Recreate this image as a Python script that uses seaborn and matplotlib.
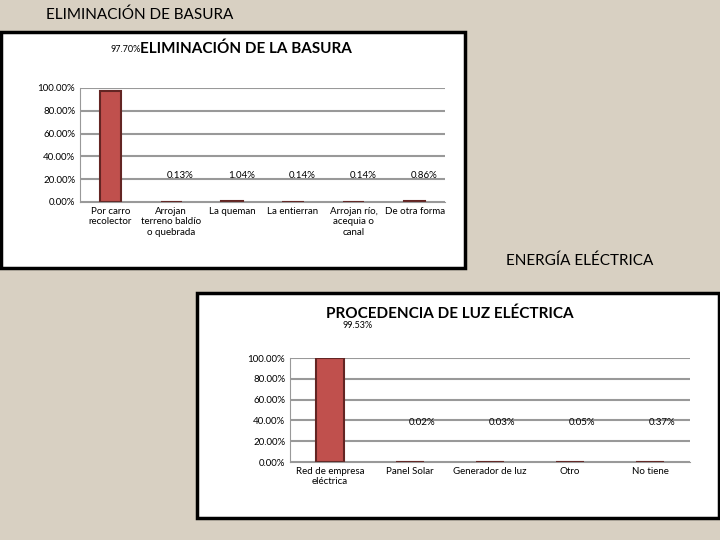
import matplotlib
matplotlib.use("Agg")
import matplotlib.pyplot as plt
import seaborn as sns
import pandas as pd
from matplotlib.patches import Rectangle

basura_cats = ["Por carro\nrecolector", "Arrojan\nterreno baldío\no quebrada", "La queman",
               "La entierran", "Arrojan río,\nacequia o\ncanal", "De otra forma"]
basura_vals = [0.9770, 0.0013, 0.0104, 0.0014, 0.0014, 0.0086]
basura_labels = ["97.70%", "0.13%", "1.04%", "0.14%", "0.14%", "0.86%"]

luz_cats = ["Red de empresa\neléctrica", "Panel Solar", "Generador de luz", "Otro", "No tiene"]
luz_vals = [0.9953, 0.0002, 0.0003, 0.0005, 0.0037]
luz_labels = ["99.53%", "0.02%", "0.03%", "0.05%", "0.37%"]

plt.rcParams["font.family"] = "Lato"
fig = plt.figure(figsize=(7.2, 5.4), dpi=100)
fig.patch.set_facecolor("#d8d0c2")

fig.text(46/720, 1-15/540, "ELIMINACIÓN DE BASURA", fontsize=11, va="center")
fig.text(506/720, 1-261/540, "ENERGÍA ELÉCTRICA", fontsize=11, va="center")

for (l, b, w, h) in [(1/720, 1-268/540, 464/720, 236/540), (197/720, 22/540, 522/720, 225/540)]:
    fig.patches.append(Rectangle((l, b), w, h, transform=fig.transFigure,
                                 facecolor="white", edgecolor="black", lw=2.5, zorder=-5))

def draw(ax, cats, vals, labels, title, title_xy, first_lab_xy, lab_y):
    ax.set_zorder(5)
    df = pd.DataFrame({"c": cats, "v": vals})
    sns.barplot(data=df, x="c", y="v", ax=ax, color="#c0504d", edgecolor="#632523",
                linewidth=1.5, width=0.35, saturation=1)
    ax.set_ylim(0, 1.0)
    ax.set_yticks([0, .2, .4, .6, .8, 1.0])
    ax.set_yticklabels(["0.00%", "20.00%", "40.00%", "60.00%", "80.00%", "100.00%"], fontsize=7)
    ax.yaxis.grid(True, color="#999999", lw=1.5)
    ax.set_axisbelow(True)
    ax.set_facecolor("none")
    for s in ["top", "right"]:
        ax.spines[s].set_visible(False)
    ax.spines["left"].set_color("#999999")
    ax.spines["bottom"].set_color("#999999")
    ax.tick_params(length=0, labelsize=7)
    ax.set_xlabel(""); ax.set_ylabel("")
    for i, lab in enumerate(labels):
        if i == 0:
            fig.text(*first_lab_xy, lab, fontsize=6.5, ha="center", va="center", zorder=10)
        else:
            ax.text(i + 0.15, lab_y, lab, fontsize=7, ha="center", va="center")
    fig.text(*title_xy, title, fontsize=11, fontweight="bold", ha="center", va="center", zorder=10)

ax1 = fig.add_axes([80/720, 1-202/540, 365/720, 114/540])
draw(ax1, basura_cats, basura_vals, basura_labels, "ELIMINACIÓN DE LA BASURA",
     (246/720, 1-49/540), (126/720, 1-50/540), 0.23)

ax2 = fig.add_axes([290/720, 1-462/540, 400/720, 104/540])
draw(ax2, luz_cats, luz_vals, luz_labels, "PROCEDENCIA DE LUZ ELÉCTRICA",
     (450/720, 1-314/540), (358/720, 1-326/540), 0.38)

fig.savefig("out.png", dpi=100, facecolor=fig.get_facecolor())
